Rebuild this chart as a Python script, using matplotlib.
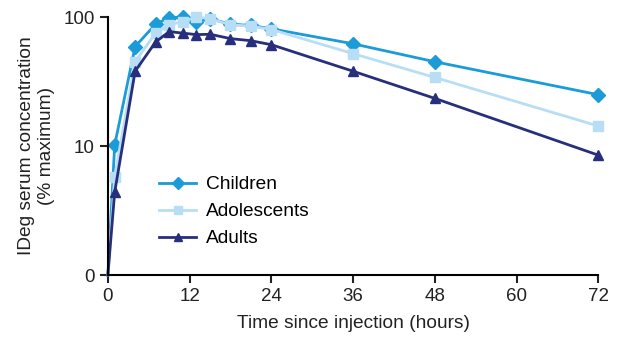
import numpy as np
import matplotlib
matplotlib.use("Agg")
import matplotlib.pyplot as plt

# tempi di prelievo (ore) e concentrazioni (% del massimo)
hours = [0, 1, 4, 7, 9, 11, 13, 15, 18, 21, 24, 36, 48, 72]
children = [0, 10.2, 59, 88, 99, 100, 92, 97, 88, 86, 81, 62, 45, 25]
adolescents = [0, 5.8, 45, 75, 87, 92, 100, 97, 87, 85, 80, 52, 34, 14.3]
adults = [0, 4.4, 38, 64, 77, 75, 73, 73.5, 68, 65.5, 61, 38, 23.4, 8.5]

xticks = [0, 12, 24, 36, 48, 60, 72]
yticks = [1, 10, 100]
ytick_labels = ["0", "10", "100"]

plt.rcParams["font.family"] = ["Liberation Sans", "DejaVu Sans"]

fig = plt.figure(figsize=(6.2, 3.4), dpi=100)
ax = fig.add_axes([0.174, 0.191, 0.791, 0.759])


def floor(v):
    # lo zero sull'asse log viene disegnato al fondo dell'asse (etichetta "0")
    v = np.asarray(v, dtype=float)
    return np.where(v <= 0, 1, v)


series = [
    ("Children", children, "#1b9bd7", "D", 7.5),
    ("Adolescents", adolescents, "#b7def5", "s", 7),
    ("Adults", adults, "#272f7c", "^", 7.5),
]
for name, vals, col, mk, ms in series:
    ax.plot(hours, floor(vals), color=col, lw=2, marker=mk, ms=ms,
            markevery=list(range(1, len(hours))), label=name, clip_on=False)

ax.set_yscale("log")
ax.set_ylim(1, 100)
ax.set_xlim(0, 72)
ax.set_yticks(yticks)
ax.set_yticklabels(ytick_labels)
ax.yaxis.set_minor_locator(matplotlib.ticker.NullLocator())
ax.set_xticks(xticks)

for s in ["top", "right"]:
    ax.spines[s].set_visible(False)
for s in ["left", "bottom"]:
    ax.spines[s].set_linewidth(1.5)
ax.tick_params(width=1.5, length=6, labelsize=13.5, color="#222222",
               labelcolor="#222222")

ax.set_xlabel("Time since injection (hours)", fontsize=13.8, color="#222222",
              labelpad=7)
ax.set_ylabel("IDeg serum concentration\n(% maximum)", fontsize=13.8,
              color="#222222", linespacing=1.2, labelpad=6)

ax.legend(loc="lower left", bbox_to_anchor=(0.07, 0.04), frameon=False,
          fontsize=13.8, handlelength=1.9, labelspacing=0.5,
          handletextpad=0.55, markerscale=0.85)

fig.savefig("out.png", dpi=100)
